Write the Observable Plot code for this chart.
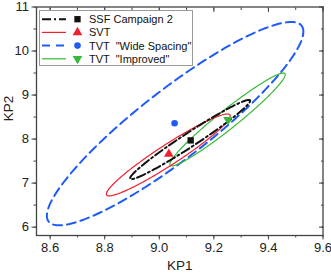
<!DOCTYPE html>
<html><head><meta charset="utf-8">
<script src="https://cdn.jsdelivr.net/npm/d3@7"></script>
<script src="https://cdn.jsdelivr.net/npm/@observablehq/plot@0.6"></script>
<style>
body{margin:0;background:#fff;font-family:"Liberation Sans",Arial,sans-serif;}
#wrap{position:relative;width:331px;height:274px;}
#legend{position:absolute;left:0;top:0;}
</style></head>
<body><div id="wrap"></div>
<script>
// Series
const seriesNames = ["SSF Campaign 2", "SVT", "TVT  \"Wide Spacing\"", "TVT  \"Improved\""];
const seriesColors = ["#111111", "#f0202c", "#1e5cf5", "#38b838"];
// Point estimates (KP1, KP2)
const pointKP1 = [9.115, 9.035, 9.056, 9.252];
const pointKP2 = [7.97, 7.66, 8.36, 8.44];
const pointSymbols = ["square", "triangle", "circle", "triangle"];
const pointRotate = [0, 0, 0, 180];
// Confidence ellipse parameters (centre, half-extent along each axis, correlation)
const ellCenterKP1 = [9.113, 9.033, 9.058, 9.25];
const ellCenterKP2 = [7.99, 7.64, 8.35, 8.445];
const ellHalfKP1 = [0.22, 0.227, 0.47, 0.2115];
const ellHalfKP2 = [0.90, 0.93, 2.31, 1.055];
const ellRho = [0.978, 0.955, 0.905, 0.966];
// Tick labels
const xTicks = [8.6, 8.8, 9.0, 9.2, 9.4, 9.6];
const xMinor = [8.6, 8.7, 8.8, 8.9, 9.0, 9.1, 9.2, 9.3, 9.4, 9.5, 9.6];
const yTicks = [6, 7, 8, 9, 10, 11];
const yMinor = [6, 6.5, 7, 7.5, 8, 8.5, 9, 9.5, 10, 10.5, 11];

const N = 240;
const ellipses = seriesNames.map((name, i) => {
  const pts = [];
  const s = Math.sqrt(1 - ellRho[i] * ellRho[i]);
  for (let k = 0; k <= N; k++) {
    const t = 2 * Math.PI * k / N;
    pts.push({
      kp1: ellCenterKP1[i] + ellHalfKP1[i] * Math.cos(t),
      kp2: ellCenterKP2[i] + ellHalfKP2[i] * (ellRho[i] * Math.cos(t) + s * Math.sin(t)),
      series: name
    });
  }
  return pts;
});
const points = seriesNames.map((name, i) => ({
  kp1: pointKP1[i], kp2: pointKP2[i], series: name,
  symbol: pointSymbols[i], rotate: pointRotate[i], color: seriesColors[i]
}));

const lineStyles = [
  {stroke: seriesColors[0], strokeWidth: 2, strokeDasharray: "9,3,2,3"},
  {stroke: seriesColors[1], strokeWidth: 1.2},
  {stroke: seriesColors[2], strokeWidth: 2, strokeDasharray: "9,5"},
  {stroke: seriesColors[3], strokeWidth: 1.2}
];

const frameColor = "#444";
const chart = Plot.plot({
  width: 331, height: 274,
  marginLeft: 36, marginRight: 8.5, marginTop: 6.5, marginBottom: 39,
  style: {fontFamily: "Liberation Sans, Arial, sans-serif", fontSize: "13px", color: "#222", background: "#fff", overflow: "visible"},
  x: {domain: [8.55, 9.6]},
  y: {domain: [5.81, 11]},
  marks: [
    ...[2, 3, 1, 0].map(i => Plot.line(ellipses[i], {x: "kp1", y: "kp2", curve: "linear", ...lineStyles[i]})),
    ...points.map(p => Plot.dot([p], {x: "kp1", y: "kp2", symbol: p.symbol, rotate: p.rotate, fill: p.color, r: p.symbol === "circle" ? 3.3 : 3.6, stroke: "none"})),
    Plot.axisX({ticks: xMinor, tickSize: 2.5, text: null, stroke: frameColor, label: null}),
    Plot.axisX({ticks: xTicks, tickSize: 4.5, tickFormat: d3.format(".1f"), stroke: frameColor, tickPadding: 3, label: null, fontSize: 13}),
    Plot.axisX({anchor: "top", ticks: xMinor, tickSize: -2.5, text: null, stroke: frameColor, label: null}),
    Plot.axisX({anchor: "top", ticks: xTicks, tickSize: -4.5, text: null, stroke: frameColor, label: null}),
    Plot.axisY({ticks: yMinor, tickSize: 2.5, text: null, stroke: frameColor, label: null}),
    Plot.axisY({ticks: yTicks, tickSize: 4.5, tickFormat: d3.format("d"), stroke: frameColor, tickPadding: 3, label: null, fontSize: 13}),
    Plot.axisY({anchor: "right", ticks: yMinor, tickSize: -2.5, text: null, stroke: frameColor, label: null}),
    Plot.axisY({anchor: "right", ticks: yTicks, tickSize: -4.5, text: null, stroke: frameColor, label: null}),
    Plot.frame({stroke: frameColor, strokeWidth: 1.3}),
    Plot.text(["KP1"], {frameAnchor: "bottom", dy: 34, fontSize: 13.5, fill: "#222"}),
    Plot.text(["KP2"], {frameAnchor: "left", dx: -28, rotate: -90, fontSize: 13.5, fill: "#222"})
  ]
});
document.getElementById("wrap").appendChild(chart);

// Legend (inside plot area, top-left)
const leg = d3.select("#wrap").append("svg").attr("id", "legend").attr("width", 331).attr("height", 274);
leg.append("rect").attr("x", 39.5).attr("y", 10.5).attr("width", 153).attr("height", 55)
  .attr("fill", "#fff").attr("stroke", "#999").attr("stroke-width", 1);
seriesNames.forEach((name, i) => {
  const y = 19.2 + i * 13.2;
  const st = lineStyles[i];
  leg.append("line").attr("x1", 42).attr("x2", 66).attr("y1", y).attr("y2", y)
    .attr("stroke", st.stroke).attr("stroke-width", st.strokeWidth)
    .attr("stroke-dasharray", i === 2 ? "8,6" : (st.strokeDasharray || null));
  const sym = {square: d3.symbolSquare, triangle: d3.symbolTriangle, circle: d3.symbolCircle}[pointSymbols[i]];
  leg.append("path").attr("d", d3.symbol(sym, pointSymbols[i] === "circle" ? 34 : 40)())
    .attr("transform", `translate(77.5,${y}) rotate(${pointRotate[i]})`).attr("fill", seriesColors[i]);
  leg.append("text").attr("x", 89).attr("y", y + 4).attr("font-size", 11)
    .attr("font-family", "Liberation Sans, Arial, sans-serif").attr("fill", "#111")
    .style("white-space", "pre").text(name);
});
</script></body></html>
